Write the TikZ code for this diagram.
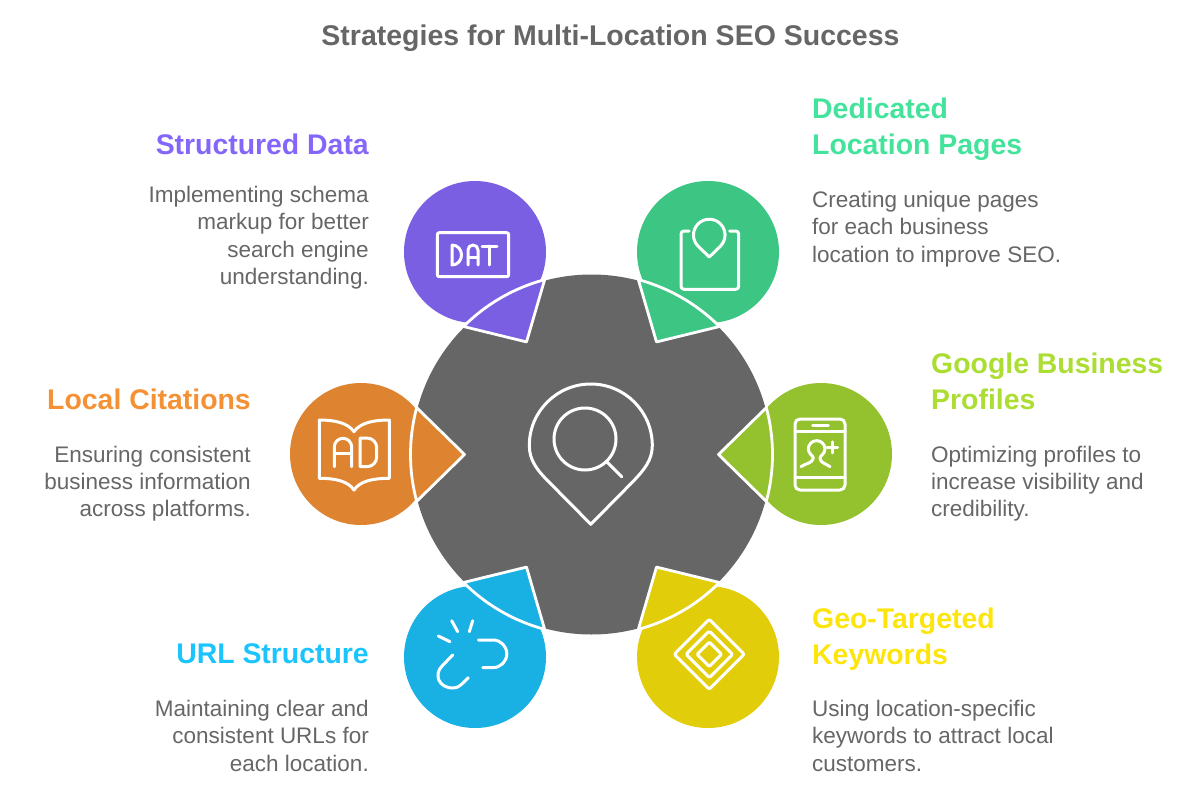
\documentclass[tikz,border=0pt]{standalone}
\usepackage{fontspec}
\setmainfont{Liberation Sans}
\definecolor{hubgray}{HTML}{666666}
\definecolor{datapurple}{HTML}{7B5FE3}
\definecolor{pagegreen}{HTML}{3CC583}
\definecolor{profilelime}{HTML}{94C12E}
\definecolor{keyyellow}{HTML}{E2CD0B}
\definecolor{urlblue}{HTML}{19B0E4}
\definecolor{citeorange}{HTML}{DE8431}
\definecolor{datahead}{HTML}{8566FA}
\definecolor{pagehead}{HTML}{44E39B}
\definecolor{profilehead}{HTML}{ACDD33}
\definecolor{keyhead}{HTML}{FDE50C}
\definecolor{urlhead}{HTML}{1CC4FE}
\definecolor{citehead}{HTML}{F59135}
\tikzset{
	heading/.style={inner sep=0pt,font=\fontsize{28.4}{36.6}\selectfont\bfseries},
	bodytext/.style={inner sep=0pt,text=hubgray,font=\fontsize{22.5}{27.4}\selectfont},
	icon/.style={draw=white,line width=3pt,line cap=round,line join=round},
	wedge/.style={draw=white,line width=2.8pt,line join=round}
}
\begin{document}
\begin{tikzpicture}[x=1pt,y=-1pt]
	\useasboundingbox (0,0) rectangle (1200,800);
	\coordinate (hub) at (591.5,454.5);
	%outer discs
		\fill[datapurple] (475,252) circle (71);
		\fill[pagegreen] (708,252) circle (71);
		\fill[citeorange] (361,454) circle (71);
		\fill[profilelime] (821,454) circle (71);
		\fill[urlblue] (475,657) circle (71);
		\fill[keyyellow] (708,657) circle (71);
	%hub
		\fill[hubgray] (hub) circle (180);
	%wedges
		\draw[wedge,fill=profilelime] (hub) +(0:127) -- +(-15:181) arc[start angle=-15,end angle=15,radius=181] -- cycle;
		\draw[wedge,fill=keyyellow] (hub) +(60:130) -- +(45:181) arc[start angle=45,end angle=75,radius=181] -- cycle;
		\draw[wedge,fill=urlblue] (hub) +(120:130) -- +(105:181) arc[start angle=105,end angle=135,radius=181] -- cycle;
		\draw[wedge,fill=citeorange] (hub) +(180:127) -- +(165:181) arc[start angle=165,end angle=195,radius=181] -- cycle;
		\draw[wedge,fill=datapurple] (hub) +(240:130) -- +(225:181) arc[start angle=225,end angle=255,radius=181] -- cycle;
		\draw[wedge,fill=pagegreen] (hub) +(300:130) -- +(285:181) arc[start angle=285,end angle=315,radius=181] -- cycle;
	%hub icon
		\draw[icon] (590.8,524.3) -- (548,481) .. controls (537,470) and (529.3,460) .. (529.3,445.5) arc[start angle=180,end angle=360,radius=61.5] .. controls (652.3,460) and (644,470) .. (633.5,481) -- cycle;
		\draw[icon] (585,439) circle (31);
		\draw[icon] (606.7,461.7) -- (621.7,476.7);
	%DAT icon
		\draw[icon,rounded corners=2pt] (437.3,232.7) rectangle (508.7,276.7);
		\draw[icon] (452,245) -- (452,265) .. controls (458,265) and (461.5,260) .. (461.5,255) .. controls (461.5,250) and (458,245) .. (452,245);
		\draw[icon] (468,265) -- (468,250) arc[start angle=180,end angle=360,radius=5] -- (478,265);
		\draw[icon] (468,257) -- (478,257);
		\draw[icon] (482,246) -- (497,246);
		\draw[icon] (489.5,246) -- (489.5,265);
	%page icon
		\draw[icon,rounded corners=3pt] (689,231) -- (681,231) -- (681,289.3) -- (738.7,289.3) -- (738.7,231) -- (729.5,231);
		\draw[icon] (709.3,257) -- (698.3,246.4) arc[start angle=134,end angle=406,radius=15.8] -- cycle;
	%book icon
		\draw[icon] (319.3,420) .. controls (335,420) and (348,423) .. (354,431.7) .. controls (360,423) and (373,420) .. (389.3,420) -- (389.3,478.3) .. controls (373,478.3) and (360,481) .. (354,490) .. controls (348,481) and (335,478.3) .. (319.3,478.3) -- cycle;
		\draw[icon] (334.3,466.7) -- (334.3,447) arc[start angle=180,end angle=360,radius=8.7] -- (351.7,466.7);
		\draw[icon] (334.3,453.3) -- (351.7,453.3);
		\draw[icon] (360,438) -- (360,466.7) -- (367,466.7) arc[start angle=90,end angle=0,radius=9.7] -- (376.7,447.7) arc[start angle=0,end angle=-90,radius=9.7] -- cycle;
	%phone icon
		\draw[icon,rounded corners=5pt] (795,419) rectangle (845,490);
		\draw[icon] (795,431.7) -- (845,431.7);
		\draw[icon] (795,477.3) -- (845,477.3);
		\draw[icon] (812.7,425.7) -- (828.3,425.7);
		\draw[icon] (801,466.7) .. controls (805,463.5) and (813.3,463) .. (813.3,458) .. controls (813.3,455.5) and (808.3,454) .. (808.3,449) arc[start angle=180,end angle=360,radius=8.35] .. controls (825,454) and (820,455.5) .. (820,458) .. controls (820,463) and (826,463.5) .. (830,466.7);
		\draw[icon] (827,447.3) -- (837.6,447.3);
		\draw[icon] (832.3,441.8) -- (832.3,452.8);
	%link icon
		\draw[icon] (478.3,640) -- (493,640) arc[start angle=-90,end angle=90,radius=13.8] -- (482.7,667.6);
		\draw[icon] (452.7,655) -- (442,666) .. controls (434,674) and (438,688) .. (453,688) .. controls (458,688) and (460,686) .. (468.3,677.7);
		\draw[icon] (451.7,620.7) -- (457.7,631.7);
		\draw[icon] (472.7,620.7) -- (469.3,631.7);
		\draw[icon] (438.3,636) -- (450,641.7);
	%diamond icon
		\draw[icon,rounded corners=2pt] (709.3,619.3) -- (744.3,654.3) -- (709.3,689.3) -- (674.3,654.3) -- cycle;
		\draw[icon,rounded corners=1.5pt] (709.3,631) -- (732.6,654.3) -- (709.3,677.6) -- (686,654.3) -- cycle;
		\draw[icon,rounded corners=1pt] (709.3,642.1) -- (721.5,654.3) -- (709.3,666.5) -- (697.1,654.3) -- cycle;
	%title
		\node[inner sep=0pt,text=hubgray,font=\fontsize{28.5}{34}\selectfont\bfseries] (title) at (610.5,38) {Strategies for Multi-Location SEO Success};
	%headings
		\node[heading,anchor=north east,align=right,text=datahead] (dataHead) at (369,134) {Structured Data};
		\node[heading,anchor=north west,align=left,text=pagehead] (pageHead) at (812,97.5) {Dedicated\\Location Pages};
		\node[heading,anchor=north east,align=right,text=citehead] (citeHead) at (251,389) {Local Citations};
		\node[heading,anchor=north west,align=left,text=profilehead] (profileHead) at (931,352.5) {Google Business\\Profiles};
		\node[heading,anchor=north east,align=right,text=urlhead] (urlHead) at (369,643.5) {URL Structure};
		\node[heading,anchor=north west,align=left,text=keyhead] (keyHead) at (812,607.5) {Geo-Targeted\\Keywords};
	%descriptions
		\node[bodytext,anchor=north east,align=right] (dataText) at (369,186) {Implementing schema\\markup for better\\search engine\\understanding.};
		\node[bodytext,anchor=north west,align=left] (pageText) at (812,191) {Creating unique pages\\for each business\\location to improve SEO.};
		\node[bodytext,anchor=north east,align=right] (citeText) at (251,445.5) {Ensuring consistent\\business information\\across platforms.};
		\node[bodytext,anchor=north west,align=left] (profileText) at (931,445.5) {Optimizing profiles to\\increase visibility and\\credibility.};
		\node[bodytext,anchor=north east,align=right] (urlText) at (369,700) {Maintaining clear and\\consistent URLs for\\each location.};
		\node[bodytext,anchor=north west,align=left] (keyText) at (812,700) {Using location-specific\\keywords to attract local\\customers.};
\end{tikzpicture}
\end{document}
